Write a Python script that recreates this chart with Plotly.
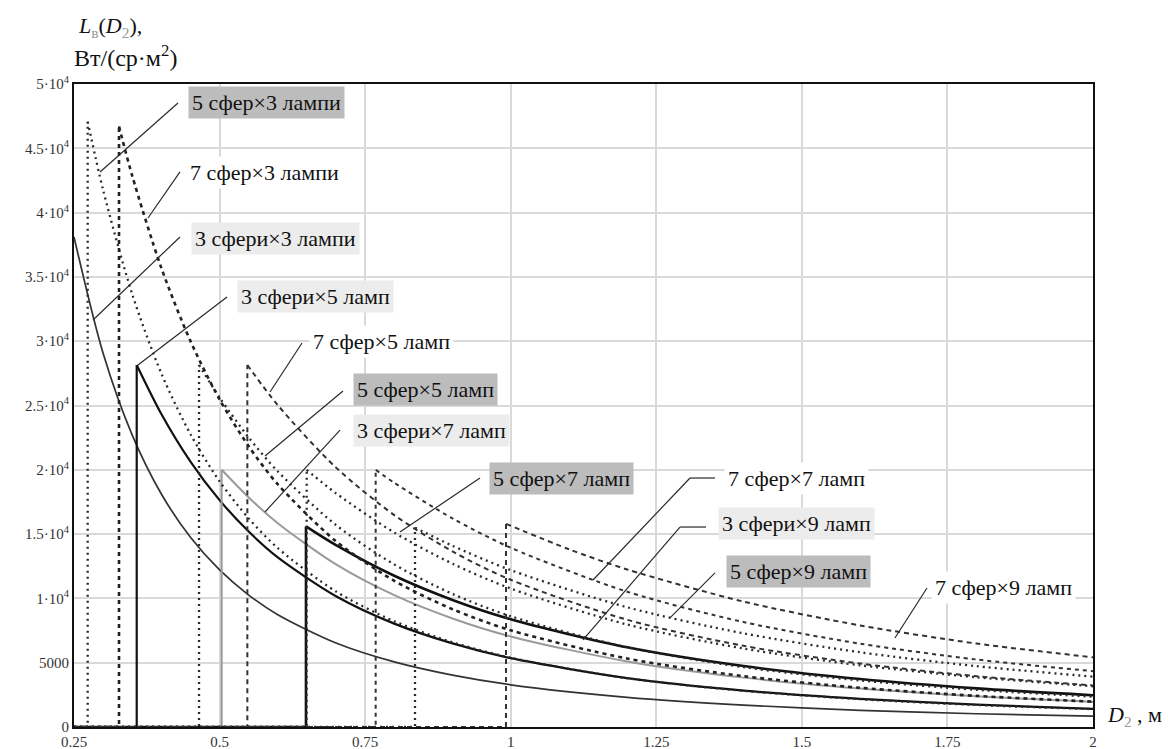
import plotly.graph_objects as go

# ---- L_в(D_2) curves, Вт/(ср·м²), for each spheres × lamps arrangement ----
# 3 spheres
d_3x3 = [0.25, 0.3, 0.35, 0.4, 0.45, 0.5, 0.55, 0.6, 0.7, 0.8, 0.9, 1.0, 1.2, 1.4, 1.6, 1.8, 2.0]
l_3x3 = [38100, 29060, 22700, 18120, 14750, 12210, 10260, 8730, 6530, 5060, 4030, 3280, 2300, 1700, 1300, 1030, 840]
d_3x5 = [0.3577, 0.4, 0.45, 0.5, 0.55, 0.6, 0.7, 0.8, 0.9, 1.0, 1.2, 1.4, 1.6, 1.8, 2.0]
l_3x5 = [28150, 24340, 20640, 17640, 15200, 13190, 10170, 8040, 6500, 5350, 3800, 2830, 2190, 1740, 1410]
d_3x7 = [0.5036, 0.55, 0.6, 0.7, 0.8, 0.9, 1.0, 1.2, 1.4, 1.6, 1.8, 2.0]
l_3x7 = [20000, 17850, 15850, 12640, 10250, 8440, 7040, 5100, 3840, 2990, 2390, 1950]
d_3x9 = [0.6484, 0.7, 0.8, 0.9, 1.0, 1.2, 1.4, 1.6, 1.8, 2.0]
l_3x9 = [15600, 14140, 11760, 9880, 8380, 6200, 4740, 3730, 3000, 2470]
# 5 spheres
d_5x3 = [0.2735, 0.3, 0.35, 0.4, 0.45, 0.5, 0.55, 0.6, 0.7, 0.8, 0.9, 1.0, 1.2, 1.4, 1.6, 1.8, 2.0]
l_5x3 = [47070, 41760, 33650, 27490, 22770, 19100, 16220, 13910, 10530, 8220, 6590, 5390, 3790, 2810, 2160, 1710, 1390]
d_5x5 = [0.4647, 0.5, 0.55, 0.6, 0.7, 0.8, 0.9, 1.0, 1.2, 1.4, 1.6, 1.8, 2.0]
l_5x5 = [28150, 25620, 22510, 19870, 15700, 12640, 10350, 8610, 6200, 4650, 3620, 2890, 2360]
d_5x7 = [0.6496, 0.7, 0.8, 0.9, 1.0, 1.2, 1.4, 1.6, 1.8, 2.0]
l_5x7 = [20000, 18170, 15120, 12700, 10770, 7970, 6100, 4800, 3870, 3170]
d_5x9 = [0.8356, 0.9, 1.0, 1.2, 1.4, 1.6, 1.8, 2.0]
l_5x9 = [15500, 14090, 12200, 9310, 7280, 5810, 4730, 3920]
# 7 spheres
d_7x3 = [0.3273, 0.35, 0.4, 0.45, 0.5, 0.55, 0.6, 0.7, 0.8, 0.9, 1.0, 1.2, 1.4, 1.6, 1.8, 2.0]
l_7x3 = [46700, 42860, 35690, 30010, 25470, 21830, 18870, 14440, 11370, 9160, 7520, 5320, 3950, 3050, 2420, 1970]
d_7x5 = [0.5477, 0.6, 0.7, 0.8, 0.9, 1.0, 1.2, 1.4, 1.6, 1.8, 2.0]
l_7x5 = [28150, 25020, 20170, 16480, 13650, 11450, 8340, 6310, 4930, 3950, 3230]
d_7x7 = [0.7681, 0.8, 0.9, 1.0, 1.2, 1.4, 1.6, 1.8, 2.0]
l_7x7 = [20000, 18990, 16220, 13940, 10520, 8160, 6480, 5250, 4340]
d_7x9 = [0.9919, 1.1, 1.2, 1.4, 1.6, 1.8, 2.0]
l_7x9 = [15800, 13820, 12250, 9750, 7900, 6490, 5420]

x_ticks = [0.25, 0.5, 0.75, 1, 1.25, 1.5, 1.75, 2]
x_ticktext = ["0.25", "0.5", "0.75", "1", "1.25", "1.5", "1.75", "2"]
y_ticks = [0, 5000, 10000, 15000, 20000, 25000, 30000, 35000, 40000, 45000, 50000]
y_ticktext = ["0", "5000", "1·10<sup>4</sup>", "1.5·10<sup>4</sup>", "2·10<sup>4</sup>",
              "2.5·10<sup>4</sup>", "3·10<sup>4</sup>", "3.5·10<sup>4</sup>", "4·10<sup>4</sup>",
              "4.5·10<sup>4</sup>", "5·10<sup>4</sup>"]

X_MIN, X_MAX = 0.25, 2.0
SERIF = "Liberation Serif"

DOT = "2px,4px"
DASH = "5px,4px"
DASH_B = "4px,4px"

# (D, L, colour, width, dash)
series = [
    (d_3x3, l_3x3, "#333333", 1.7, "solid"),
    (d_3x5, l_3x5, "#111111", 2.2, "solid"),
    (d_3x7, l_3x7, "#9a9a9a", 2.0, "solid"),
    (d_3x9, l_3x9, "#111111", 2.6, "solid"),
    (d_5x3, l_5x3, "#2a2a2a", 2.3, DOT),
    (d_5x5, l_5x5, "#2a2a2a", 2.3, DOT),
    (d_5x7, l_5x7, "#2a2a2a", 2.3, DOT),
    (d_5x9, l_5x9, "#2a2a2a", 2.3, DOT),
    (d_7x3, l_7x3, "#222222", 2.6, DASH_B),
    (d_7x5, l_7x5, "#333333", 2.0, DASH),
    (d_7x7, l_7x7, "#333333", 2.0, DASH_B),
    (d_7x9, l_7x9, "#333333", 2.0, DASH),
]

fig = go.Figure()
for d, l, col, w, dash in series:
    line = dict(color=col, width=w, dash=dash)
    if d[0] > X_MIN:
        # below the minimal distance the value is zero, then jumps up
        fig.add_trace(go.Scatter(x=[X_MIN, d[0], d[0]], y=[0, 0, l[0]], mode="lines",
                                 line=line, hoverinfo="skip", showlegend=False))
    fig.add_trace(go.Scatter(x=d, y=l, mode="lines", line=dict(line, shape="spline", smoothing=0.8),
                             showlegend=False))

# series labels: (text, x_left, y_center, background)
DARK_BG = "#bcbcbc"
LIGHT_BG = "#ececec"
labels = [
    ("5 сфер×3 лампи", 0.4458, 48560, DARK_BG),
    ("7 сфер×3 лампи", 0.4423, 43080, "white"),
    ("3 сфери×3 лампи", 0.4509, 38020, LIGHT_BG),
    ("3 сфери×5 ламп", 0.5299, 33440, LIGHT_BG),
    ("7 сфер×5 ламп", 0.6536, 29940, "white"),
    ("5 сфер×5 ламп", 0.7291, 26280, DARK_BG),
    ("3 сфери×7 ламп", 0.7291, 23090, LIGHT_BG),
    ("5 сфер×7 ламп", 0.9627, 19360, DARK_BG),
    ("7 сфер×7 ламп", 1.3663, 19360, "white"),
    ("3 сфери×9 ламп", 1.3560, 15790, LIGHT_BG),
    ("5 сфер×9 ламп", 1.3697, 12130, DARK_BG),
    ("7 сфер×9 ламп", 1.7217, 10810, "white"),
]

# leader lines from the curves to their labels
leaders = [
    [(0.2947, 43160), (0.4286, 48520)],
    [(0.3771, 39580), (0.4320, 43160)],
    [(0.2826, 31650), (0.4320, 38100)],
    [(0.3599, 28150), (0.5128, 33440)],
    [(0.5866, 26050), (0.6416, 29860)],
    [(0.5780, 21070), (0.7120, 26130)],
    [(0.5780, 16720), (0.7068, 23090)],
    [(0.8098, 15160), (0.9472, 19360)],
    [(1.1413, 11430), (1.3079, 19360), (1.3508, 19360)],
    [(1.1241, 6770), (1.2907, 15550), (1.3354, 15550)],
    [(1.2735, 8480), (1.3508, 11980)],
    [(1.6599, 6920), (1.7149, 10810)],
]

shapes = []
for pts in leaders:
    for (x0, y0), (x1, y1) in zip(pts[:-1], pts[1:]):
        shapes.append(dict(type="line", xref="x", yref="y", x0=x0, y0=y0, x1=x1, y1=y1,
                           line=dict(color="#2a2a2a", width=1.2), layer="above"))

annotations = []
for text, x, y, bg in labels:
    annotations.append(dict(text=text, x=x, y=y, xref="x", yref="y", xanchor="left", yanchor="middle",
                            showarrow=False, bgcolor=bg, borderpad=3,
                            font=dict(family=SERIF, size=22, color="#111111")))

# axis titles, placed in pixels of the page: (text, left, centre y, size)
titles = [
    ("<i>L</i><sub><span style='color:#999999'>в</span></sub>(<i>D</i><sub><span style='color:#999999'>2</span></sub>),",
     76, 27, 22),
    ("Вт/(ср·м<sup>2</sup>)", 72, 56, 24),
    ("<i>D</i><sub><span style='color:#999999'>2</span></sub> , м", 1105, 716, 22),
]

PLOT_L, PLOT_R, PLOT_T, PLOT_B = 74, 1093, 84, 727
for text, px, py, size in titles:
    annotations.append(dict(
        text=text, x=(px - PLOT_L) / (PLOT_R - PLOT_L), y=(PLOT_B - py) / (PLOT_B - PLOT_T),
        xref="paper", yref="paper", showarrow=False, xanchor="left", yanchor="middle",
        font=dict(family=SERIF, size=size, color="#111111")))

fig.update_layout(
    width=1168, height=749, autosize=False,
    margin=dict(l=PLOT_L, r=1168 - PLOT_R, t=PLOT_T, b=749 - PLOT_B),
    paper_bgcolor="white", plot_bgcolor="white",
    shapes=shapes, annotations=annotations,
    font=dict(family=SERIF, color="#222222"),
)
fig.update_xaxes(range=[X_MIN, X_MAX], tickvals=x_ticks, ticktext=x_ticktext,
                 showgrid=True, gridcolor="#d9d9d9", gridwidth=1.5, zeroline=False,
                 showline=True, linecolor="#111111", linewidth=2, mirror=True,
                 ticks="", automargin=False,
                 tickfont=dict(family=SERIF, size=15, color="#333333"))
fig.update_yaxes(range=[0, 50000], tickvals=y_ticks, ticktext=y_ticktext,
                 showgrid=True, gridcolor="#d9d9d9", gridwidth=1.5, zeroline=False,
                 showline=True, linecolor="#111111", linewidth=2, mirror=True,
                 ticks="", automargin=False,
                 tickfont=dict(family=SERIF, size=15, color="#333333"))

fig.write_html("out.html")
